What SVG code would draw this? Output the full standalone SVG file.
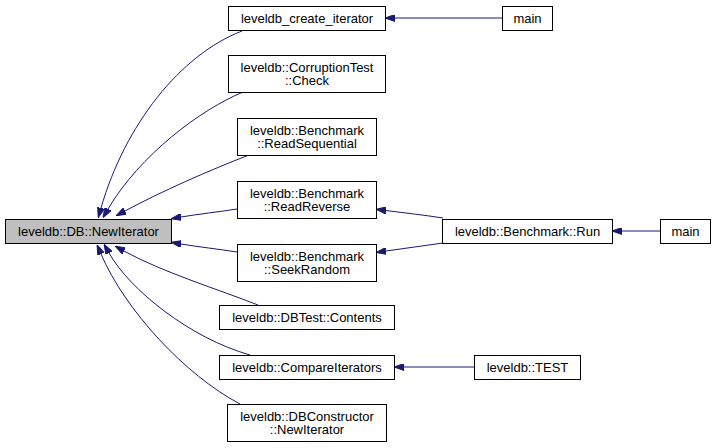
<svg xmlns="http://www.w3.org/2000/svg" width="716" height="448" viewBox="0 0 716 448">
<style>
.n rect{fill:#fff;stroke:#000;stroke-width:1}
.n.cur rect{fill:#bfbfbf}
.n text{font-family:"Liberation Sans",Arial,Helvetica,sans-serif;font-size:13px;fill:#000;text-anchor:middle}
.e path{fill:none;stroke:#191970;stroke-width:1;marker-end:url(#ah)}
</style>
<defs>
<marker id="ah" viewBox="0 0 10 7" refX="0" refY="3.5" markerWidth="10" markerHeight="7" markerUnits="userSpaceOnUse" orient="auto">
<polygon points="0,0 10,3.5 0,7" fill="#191970" stroke="#191970" stroke-width="1"/>
</marker>
</defs>
<rect width="716" height="448" fill="#fff"/>
<g id="edges" class="e">
<path d="M242,31 C180,55 125,125 101,208"/>
<path d="M243,92 C200,110 140,155 108,209"/>
<path d="M249,155 C210,170 160,192 125,211"/>
<path d="M237,209 C218,212 199,214 181,217"/>
<path d="M237,252 C218,249 199,247 181,244"/>
<path d="M258,305 C220,290 162,272 124,251"/>
<path d="M250,355 C190,338 130,290 109,253"/>
<path d="M240,404 C185,375 125,310 101,254"/>
<path d="M502,18 L395,18"/>
<path d="M443,218 C424,215 405,213 386,210.5"/>
<path d="M443,243 C424,246 405,248 386,251"/>
<path d="M660,231 L622,231"/>
<path d="M474,367 L404,367"/>
</g>
<g id="n_newiter" class="n cur"><rect x="5.5" y="219.5" width="166" height="24"/><text x="88.5" y="236">leveldb::DB::NewIterator</text></g>
<g id="n_create" class="n"><rect x="228.5" y="6.5" width="157" height="24"/><text x="307" y="23">leveldb_create_iterator</text></g>
<g id="n_check" class="n"><rect x="228.5" y="55.5" width="157" height="37"/><text x="307" y="72">leveldb::CorruptionTest</text><text x="307" y="84.5">::Check</text></g>
<g id="n_readseq" class="n"><rect x="237.5" y="118.5" width="139" height="37"/><text x="307" y="135">leveldb::Benchmark</text><text x="307" y="147.5">::ReadSequential</text></g>
<g id="n_readrev" class="n"><rect x="237.5" y="181.5" width="139" height="37"/><text x="307" y="198">leveldb::Benchmark</text><text x="307" y="210.5">::ReadReverse</text></g>
<g id="n_seek" class="n"><rect x="237.5" y="244.5" width="139" height="37"/><text x="307" y="261">leveldb::Benchmark</text><text x="307" y="273.5">::SeekRandom</text></g>
<g id="n_contents" class="n"><rect x="219.5" y="305.5" width="175" height="24"/><text x="307" y="322">leveldb::DBTest::Contents</text></g>
<g id="n_compare" class="n"><rect x="219.5" y="355.5" width="175" height="24"/><text x="307" y="372">leveldb::CompareIterators</text></g>
<g id="n_dbcons" class="n"><rect x="227.5" y="404.5" width="159" height="37"/><text x="307" y="421">leveldb::DBConstructor</text><text x="307" y="433.5">::NewIterator</text></g>
<g id="n_main1" class="n"><rect x="502.5" y="6.5" width="50" height="24"/><text x="527.5" y="23">main</text></g>
<g id="n_run" class="n"><rect x="442.5" y="219.5" width="170" height="24"/><text x="527.5" y="236">leveldb::Benchmark::Run</text></g>
<g id="n_main2" class="n"><rect x="660.5" y="219.5" width="50" height="24"/><text x="685.5" y="236">main</text></g>
<g id="n_test" class="n"><rect x="474.5" y="355.5" width="106" height="24"/><text x="527.5" y="372">leveldb::TEST</text></g>
</svg>
